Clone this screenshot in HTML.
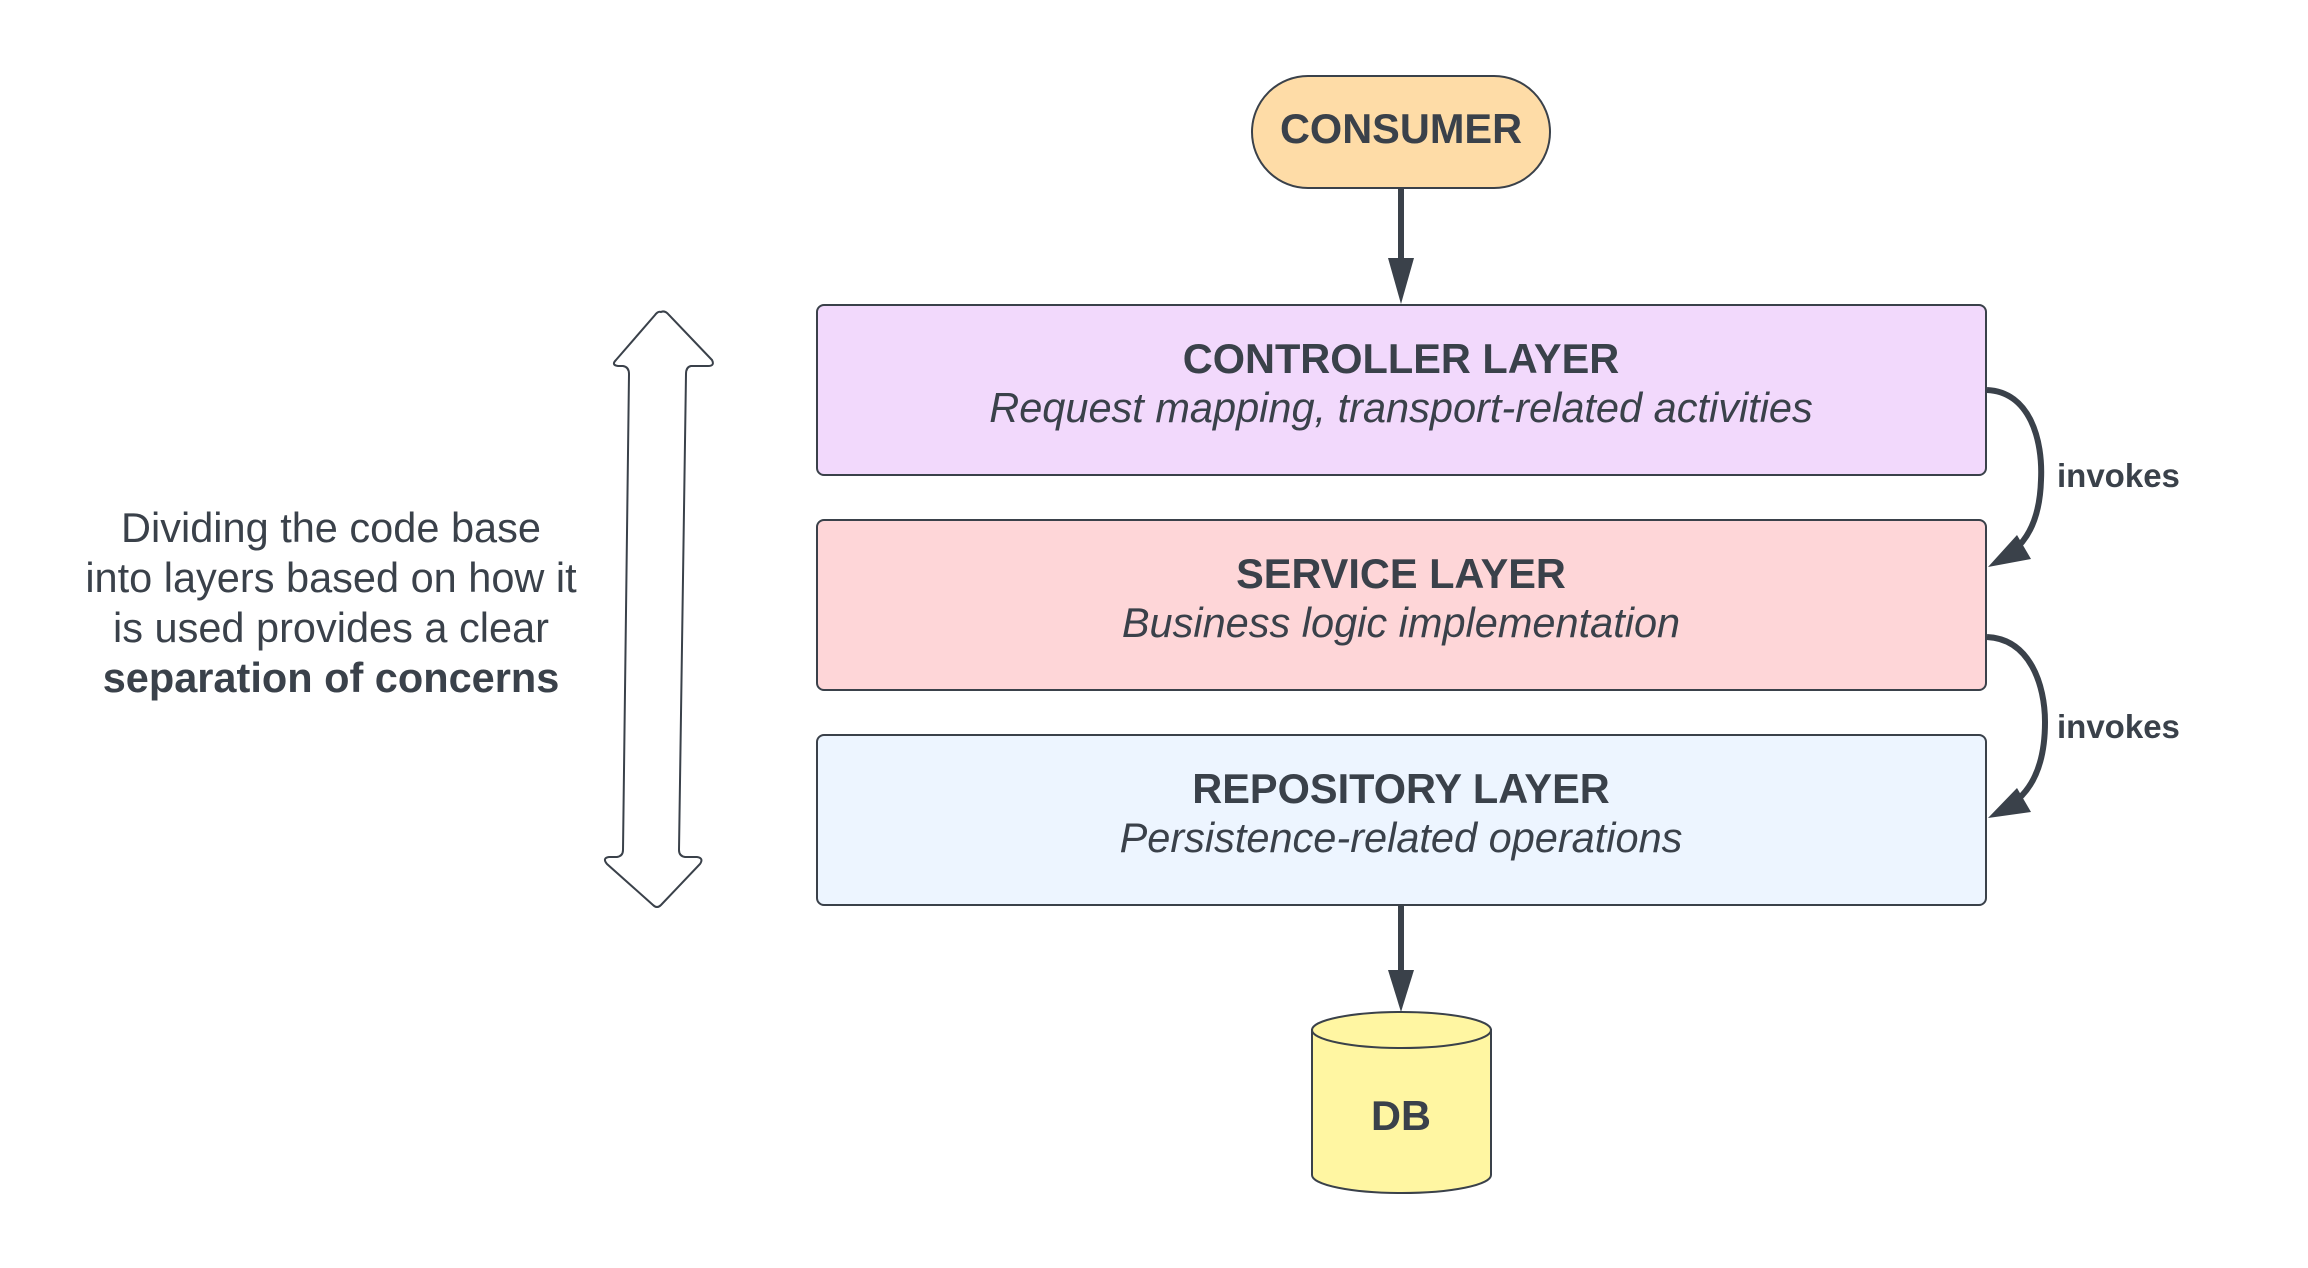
<!DOCTYPE html>
<html><head><meta charset="utf-8"><style>
html,body{margin:0;padding:0;background:#fff;}
svg{display:block;}
text{font-family:"Liberation Sans",Arial,sans-serif;fill:#3a414a;}
</style></head><body>
<svg width="2308" height="1268" viewBox="0 0 2308 1268" xmlns="http://www.w3.org/2000/svg">
<rect x="1252" y="76" width="298" height="112" rx="56" fill="#fedca7" stroke="#3a414a" stroke-width="2"/>
<text x="1401" y="143" font-size="41.5" font-weight="bold" text-anchor="middle">CONSUMER</text>
<line x1="1401" y1="188" x2="1401" y2="262" stroke="#3a414a" stroke-width="6"/>
<polygon points="1388,258 1414,258 1401,304" fill="#3a414a"/>
<rect x="817" y="305" width="1169" height="170" rx="7" fill="#f2d9fc" stroke="#3a414a" stroke-width="2"/>
<text x="1401" y="373" font-size="41.5" font-weight="bold" text-anchor="middle">CONTROLLER LAYER</text>
<text x="1401" y="422" font-size="41.5" font-style="italic" text-anchor="middle">Request mapping, transport-related activities</text>
<rect x="817" y="520" width="1169" height="170" rx="7" fill="#fed6d8" stroke="#3a414a" stroke-width="2"/>
<text x="1401" y="588" font-size="41.5" font-weight="bold" text-anchor="middle">SERVICE LAYER</text>
<text x="1401" y="637" font-size="41.5" font-style="italic" text-anchor="middle">Business logic implementation</text>
<rect x="817" y="735" width="1169" height="170" rx="7" fill="#edf5ff" stroke="#3a414a" stroke-width="2"/>
<text x="1401" y="803" font-size="41.5" font-weight="bold" text-anchor="middle">REPOSITORY LAYER</text>
<text x="1401" y="852" font-size="41.5" font-style="italic" text-anchor="middle">Persistence-related operations</text>
<line x1="1401" y1="905" x2="1401" y2="975" stroke="#3a414a" stroke-width="6"/>
<polygon points="1388,970 1414,970 1401,1012" fill="#3a414a"/>
<path d="M1312,1030 L1312,1175 A89.5,18 0 0 0 1491,1175 L1491,1030 Z" fill="#fff6a2" stroke="#3a414a" stroke-width="2"/>
<ellipse cx="1401.5" cy="1030" rx="89.5" ry="18" fill="#fff6a2" stroke="#3a414a" stroke-width="2"/>
<text x="1401" y="1130" font-size="41.5" font-weight="bold" text-anchor="middle">DB</text>
<path d="M1987,390 C2030,392 2043,440 2041,480 C2040,515 2030,538 2012,552" fill="none" stroke="#3a414a" stroke-width="6"/>
<polygon points="1988,567 2017,535 2031,559" fill="#3a414a"/>
<path d="M1987,637 C2030,639 2045,685 2045,722 C2045,765 2032,790 2012,804" fill="none" stroke="#3a414a" stroke-width="6"/>
<polygon points="1988,818 2017,788 2031,812" fill="#3a414a"/>
<text x="2057" y="487" font-size="33" font-weight="bold">invokes</text>
<text x="2057" y="738" font-size="33" font-weight="bold">invokes</text>
<text x="331" y="542" font-size="41.5" text-anchor="middle">Dividing the code base</text>
<text x="331" y="592" font-size="41.5" text-anchor="middle">into layers based on how it</text>
<text x="331" y="642" font-size="41.5" text-anchor="middle">is used provides a clear</text>
<text x="331" y="692" font-size="41.5" font-weight="bold" text-anchor="middle">separation of concerns</text>
<g transform="translate(-5,0)">
<path d="M666,312 Q670,310 674,315 L717,360 Q720,366 713,366 L696,366 Q691,367 691,374 L684,850 Q684,856 690,857 L702,857 Q709,858 705,864 L666,905 Q662,909 658,905 L612,864 Q607,858 614,857 L622,857 Q628,856 628,850 L634,374 Q634,367 628,366 L623,366 Q616,365 621,360 L660,315 Q663,311 666,312 Z" fill="#fff" stroke="#3a414a" stroke-width="2"/>
</g>
</svg>
</body></html>
